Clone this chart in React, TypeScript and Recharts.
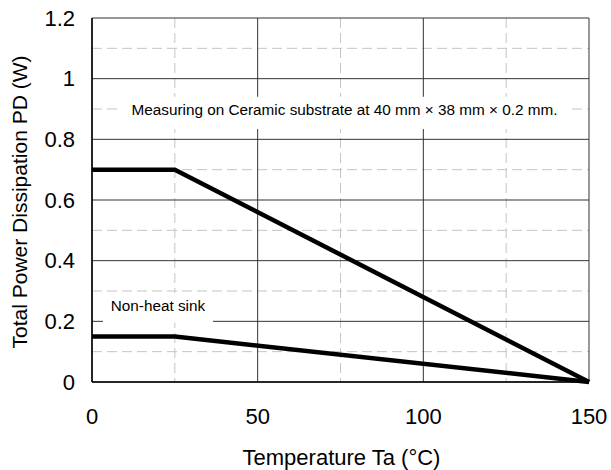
import {
  CartesianGrid,
  Line,
  LineChart,
  ReferenceArea,
  XAxis,
  YAxis,
} from "recharts";

// Derating curve: ambient temperature (°C) vs allowed power dissipation (W)
const temps = [0, 25, 150];
const ceramic = [0.7, 0.7, 0];
const nonHeatSink = [0.15, 0.15, 0];

const xTicks = [0, 50, 100, 150];
const yTicks = [0, 0.2, 0.4, 0.6, 0.8, 1, 1.2];
const xMinor = [25, 75, 125];
const yMinor = [0.1, 0.3, 0.5, 0.7, 0.9, 1.1];

const font = "'Liberation Sans', Arial, Helvetica, sans-serif";
const tick = { fill: "#000", fontSize: 22, fontFamily: font };

const data = temps.map((t, i) => ({
  t,
  ceramic: ceramic[i],
  nonHeatSink: nonHeatSink[i],
}));

const boxLabel =
  (text: string, dy = 0) =>
  (props: any) => {
    const vb = props.viewBox;
    return (
      <text
        x={vb.x + vb.width / 2}
        y={vb.y + vb.height / 2 + dy}
        textAnchor="middle"
        dominantBaseline="central"
        fontSize={15.3}
        fontFamily={font}
        fill="#000"
      >
        {text}
      </text>
    );
  };

export default function App() {
  return (
    <div
      style={{
        position: "absolute",
        left: 0,
        top: 0,
        width: 611,
        height: 470,
        background: "#fff",
      }}
    >
      <LineChart
        width={611}
        height={470}
        data={data}
        margin={{ top: 18, right: 22, left: 0, bottom: 0 }}
      >
        {/* minor grid, dashed */}
        <CartesianGrid
          stroke="#c4c4c4"
          strokeDasharray="10 5"
          horizontalValues={yMinor}
          verticalValues={xMinor}
        />
        {/* major grid, solid */}
        <CartesianGrid
          stroke="#333"
          strokeWidth={1}
          horizontalValues={yTicks}
          verticalValues={xTicks}
        />
        <XAxis
          dataKey="t"
          type="number"
          domain={[0, 150]}
          ticks={xTicks}
          tick={tick}
          tickLine={false}
          tickSize={0}
          tickMargin={26}
          height={88}
          axisLine={{ stroke: "#000", strokeWidth: 1.5 }}
          label={{
            content: (p: any) => (
              <text
                x={p.viewBox.x + p.viewBox.width / 2 + 1}
                y={465}
                textAnchor="middle"
                fontSize={22}
                fontFamily={font}
                fill="#000"
              >
                Temperature Ta (°C)
              </text>
            ),
          }}
        />
        <XAxis
          xAxisId="top"
          orientation="top"
          dataKey="t"
          type="number"
          domain={[0, 150]}
          ticks={xTicks}
          tick={false}
          tickLine={false}
          height={0}
          axisLine={{ stroke: "#000", strokeWidth: 1.5 }}
        />
        <YAxis
          type="number"
          domain={[0, 1.2]}
          ticks={yTicks}
          tick={tick}
          tickLine={false}
          tickSize={0}
          tickMargin={17}
          width={92}
          axisLine={{ stroke: "#000", strokeWidth: 1.5 }}
          label={{
            content: (p: any) => {
              const cy = p.viewBox.y + p.viewBox.height / 2 + 2;
              return (
                <text
                  x={27}
                  y={cy}
                  transform={`rotate(-90 27 ${cy})`}
                  textAnchor="middle"
                  fontSize={21}
                  fontFamily={font}
                  fill="#000"
                >
                  Total Power Dissipation PD (W)
                </text>
              );
            },
          }}
        />
        <YAxis
          yAxisId="right"
          orientation="right"
          type="number"
          domain={[0, 1.2]}
          ticks={yTicks}
          tick={false}
          tickLine={false}
          width={0}
          axisLine={{ stroke: "#000", strokeWidth: 1.5 }}
        />
        <ReferenceArea
          x1={9}
          x2={143.4}
          y1={0.834}
          y2={0.94}
          fill="#fff"
          fillOpacity={1}
          stroke="none"
          label={{
            content: boxLabel(
              "Measuring on Ceramic substrate at 40 mm × 38 mm × 0.2 mm.",
              -3
            ),
          }}
        />
        <ReferenceArea
          x1={3.3}
          x2={36.5}
          y1={0.195}
          y2={0.293}
          fill="#fff"
          fillOpacity={1}
          stroke="none"
          label={{ content: boxLabel("Non-heat sink", -2) }}
        />
        <Line
          dataKey="ceramic"
          type="linear"
          stroke="#000"
          strokeWidth={4.5}
          dot={false}
          isAnimationActive={false}
        />
        <Line
          dataKey="nonHeatSink"
          type="linear"
          stroke="#000"
          strokeWidth={4.5}
          dot={false}
          isAnimationActive={false}
        />
      </LineChart>
    </div>
  );
}
